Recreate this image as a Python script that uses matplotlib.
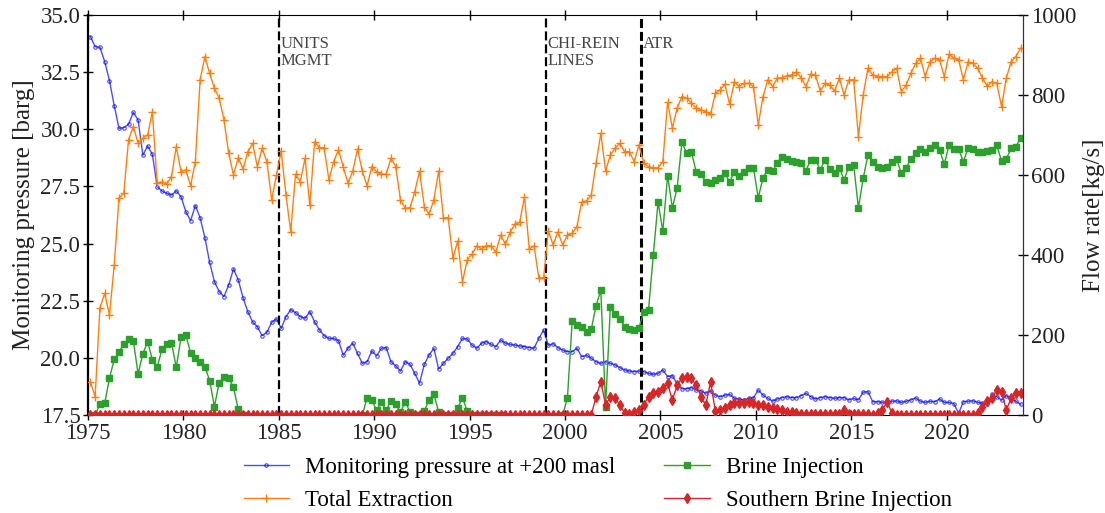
import numpy as np
import matplotlib
matplotlib.use("Agg")
import matplotlib.pyplot as plt
from matplotlib.ticker import FormatStrFormatter

nan = float("nan")

# Quarterly sampling, 1975 - 2023 (mid-quarter time stamps)
years = np.arange(1975, 2024)
quarter_offsets = [0.125, 0.375, 0.625, 0.875]

# Monitoring pressure at +200 masl [barg]
pressure = [
    34.05, 33.61, 33.59, 32.96,  # 1975
    32.13, 31.03, 30.04, 30.07,  # 1976
    30.22, 30.74, 30.41, 28.87,  # 1977
    29.27, 28.90, 27.49, 27.30,  # 1978
    27.20, 27.12, 27.30, 27.05,  # 1979
    26.40, 26.00, 26.66, 26.13,  # 1980
    25.26, 24.18, 23.33, 22.90,  # 1981
    22.68, 23.19, 23.89, 23.41,  # 1982
    22.63, 22.02, 21.58, 21.36,  # 1983
    20.97, 21.12, 21.55, 21.70,  # 1984
    21.29, 21.80, 22.11, 21.98,  # 1985
    21.80, 21.73, 22.02, 21.58,  # 1986
    21.22, 20.97, 20.85, 20.85,  # 1987
    20.75, 20.12, 20.42, 20.64,  # 1988
    20.20, 19.76, 19.83, 20.30,  # 1989
    20.09, 20.42, 20.45, 19.83,  # 1990
    19.65, 19.42, 19.83, 19.72,  # 1991
    19.32, 18.89, 19.72, 20.12,  # 1992
    20.42, 19.51, 19.76, 19.98,  # 1993
    20.20, 20.49, 20.85, 20.82,  # 1994
    20.56, 20.42, 20.64, 20.71,  # 1995
    20.59, 20.49, 20.78, 20.64,  # 1996
    20.59, 20.56, 20.52, 20.49,  # 1997
    20.45, 20.42, 20.85, 21.22,  # 1998
    20.55, 20.62, 20.45, 20.34,  # 1999
    20.27, 20.27, 20.42, 20.05,  # 2000
    20.12, 19.98, 19.83, 19.76,  # 2001
    19.83, 19.76, 19.69, 19.57,  # 2002
    19.47, 19.42, 19.40, 19.42,  # 2003
    19.40, 19.32, 19.28, 19.32,  # 2004
    19.47, 19.18, 19.22, 18.85,  # 2005
    18.65, 18.65, 18.70, 18.60,  # 2006
    18.55, 18.45, 18.55, 18.37,  # 2007
    18.30, 18.37, 18.40, 18.23,  # 2008
    18.20, 18.16, 18.23, 18.26,  # 2009
    18.59, 18.37, 18.23, 18.11,  # 2010
    18.20, 18.26, 18.30, 18.26,  # 2011
    18.26, 18.35, 18.45, 18.30,  # 2012
    18.20, 18.26, 18.30, 18.26,  # 2013
    18.23, 18.26, 18.26, 18.16,  # 2014
    18.23, 18.16, 18.50, 18.52,  # 2015
    18.08, 18.08, 18.05, 18.05,  # 2016
    18.10, 18.12, 18.05, 18.10,  # 2017
    18.16, 18.25, 18.10, 18.05,  # 2018
    18.10, 18.08, 18.20, 18.05,  # 2019
    18.05, 18.00, 17.57, 18.08,  # 2020
    18.10, 18.12, 18.05, 18.02,  # 2021
    17.97, 18.40, 18.30, 18.15,  # 2022
    18.35, 18.20, 18.10, 17.97,  # 2023
]

# Total extraction [kg/s]
total_extraction = [
    83, 46, 268, 304,     # 1975
    250, 375, 543, 554,   # 1976
    688, 721, 679, 692,   # 1977
    700, 758, 579, 583,   # 1978
    577, 596, 671, 608,   # 1979
    613, 573, 633, 838,   # 1980
    896, 854, 817, 792,   # 1981
    738, 654, 600, 643,   # 1982
    615, 658, 679, 621,   # 1983
    667, 633, 538, 600,   # 1984
    660, 550, 458, 602,   # 1985
    583, 642, 525, 683,   # 1986
    668, 668, 588, 633,   # 1987
    663, 621, 579, 610,   # 1988
    665, 610, 573, 621,   # 1989
    608, 602, 602, 642,   # 1990
    621, 538, 517, 518,   # 1991
    558, 610, 521, 502,   # 1992
    538, 610, 493, 493,   # 1993
    392, 435, 333, 388,   # 1994
    402, 423, 415, 423,   # 1995
    423, 407, 450, 427,   # 1996
    457, 477, 482, 546,   # 1997
    415, 423, 343, 343,   # 1998
    460, 425, 458, 425,   # 1999
    450, 454, 471, 533,   # 2000
    535, 550, 629, 704,   # 2001
    610, 650, 667, 679,   # 2002
    658, 658, 633, 675,   # 2003
    629, 621, 618, 618,   # 2004
    633, 782, 717, 767,   # 2005
    796, 792, 779, 767,   # 2006
    763, 758, 752, 804,   # 2007
    813, 827, 777, 833,   # 2008
    821, 829, 829, 821,   # 2009
    725, 796, 838, 821,   # 2010
    842, 843, 848, 850,   # 2011
    857, 843, 821, 852,   # 2012
    850, 810, 829, 825,   # 2013
    810, 842, 800, 838,   # 2014
    838, 696, 800, 867,   # 2015
    850, 846, 846, 846,   # 2016
    858, 867, 808, 825,   # 2017
    854, 879, 892, 846,   # 2018
    883, 892, 888, 846,   # 2019
    902, 892, 888, 838,   # 2020
    883, 879, 867, 842,   # 2021
    822, 833, 829, 771,   # 2022
    842, 883, 896, 917,   # 2023
]

# Brine injection [kg/s] (nan = no record)
brine_injection = [
    nan, 0, 27, 29,       # 1975
    92, 139, 158, 177,    # 1976
    189, 186, 103, 153,   # 1977
    183, 138, 119, 164,   # 1978
    177, 181, 119, 194,   # 1979
    200, 156, 142, 133,   # 1980
    121, 86, 21, 81,      # 1981
    94, 92, 69, 14,       # 1982
    0, nan, nan, nan,     # 1983
    nan, nan, nan, nan,   # 1984
    nan, nan, nan, nan,   # 1985
    nan, nan, nan, nan,   # 1986
    nan, nan, nan, nan,   # 1987
    nan, nan, nan, nan,   # 1988
    nan, 0, 43, 37,       # 1989
    12, 32, 12, 35,       # 1990
    28, 7, 33, 8,         # 1991
    0, 0, 10, 38,         # 1992
    52, 8, 0, nan,        # 1993
    0, 17, 43, 10,        # 1994
    0, 0, 0, 0,           # 1995
    0, 0, 0, nan,         # 1996
    nan, nan, nan, nan,   # 1997
    nan, nan, nan, nan,   # 1998
    nan, nan, nan, 0,     # 1999
    42, 235, 225, 219,    # 2000
    208, 215, 273, 312,   # 2001
    21, 271, 252, 240,    # 2002
    221, 215, 212, 218,   # 2003
    258, 262, 400, 532,   # 2004
    460, 598, 518, 568,   # 2005
    682, 654, 658, 607,   # 2006
    602, 583, 579, 588,   # 2007
    593, 604, 583, 608,   # 2008
    598, 608, 618, 618,   # 2009
    543, 593, 613, 610,   # 2010
    631, 646, 640, 636,   # 2011
    633, 629, 611, 638,   # 2012
    638, 613, 638, 615,   # 2013
    604, 618, 588, 621,   # 2014
    625, 517, 592, 650,   # 2015
    633, 621, 617, 621,   # 2016
    633, 640, 604, 618,   # 2017
    640, 654, 665, 657,   # 2018
    668, 675, 663, 627,   # 2019
    675, 665, 665, 633,   # 2020
    668, 665, 657, 657,   # 2021
    660, 663, 675, 635,   # 2022
    640, 667, 671, 693,   # 2023
]

# Southern brine injection [kg/s]
southern_brine = [
    0, 0, 0, 0,       # 1975
    0, 0, 0, 0,       # 1976
    0, 0, 0, 0,       # 1977
    0, 0, 0, 0,       # 1978
    0, 0, 0, 0,       # 1979
    0, 0, 0, 0,       # 1980
    0, 0, 0, 0,       # 1981
    0, 0, 0, 0,       # 1982
    0, 0, 0, 0,       # 1983
    0, 0, 0, 0,       # 1984
    0, 0, 0, 0,       # 1985
    0, 0, 0, 0,       # 1986
    0, 0, 0, 0,       # 1987
    0, 0, 0, 0,       # 1988
    0, 0, 0, 0,       # 1989
    0, 0, 0, 0,       # 1990
    0, 0, 0, 0,       # 1991
    0, 0, 0, 0,       # 1992
    0, 0, 0, 0,       # 1993
    0, 0, 0, 0,       # 1994
    0, 0, 0, 0,       # 1995
    0, 0, 0, 0,       # 1996
    0, 0, 0, 0,       # 1997
    0, 0, 0, 0,       # 1998
    0, 0, 0, 0,       # 1999
    0, 0, 0, 0,       # 2000
    0, 0, 46, 83,     # 2001
    25, 46, 42, 25,   # 2002
    4, 2, 8, 12,      # 2003
    25, 46, 56, 58,   # 2004
    67, 79, 37, 75,   # 2005
    92, 96, 92, 75,   # 2006
    46, 25, 83, 10,   # 2007
    12, 17, 25, 29,   # 2008
    29, 29, 32, 30,   # 2009
    25, 24, 21, 17,   # 2010
    15, 12, 8, 7,     # 2011
    4, 3, 2, 2,       # 2012
    2, 2, 2, 2,       # 2013
    2, 2, 12, 2,      # 2014
    2, 2, 2, 2,       # 2015
    0, 5, 12, 33,     # 2016
    5, 0, 0, 0,       # 2017
    0, 0, 0, 0,       # 2018
    0, 0, 0, 0,       # 2019
    0, 0, 0, 0,       # 2020
    0, 0, 5, 21,      # 2021
    35, 43, 62, 58,   # 2022
    12, 42, 54, 54,   # 2023
]

# Operational events marked on the time axis
event_years = [1985, 1999, 2004]
event_labels = ["UNITS\nMGMT", "CHI-REIN\nLINES", "ATR"]
event_widths = [1.6, 1.6, 2.2]

x_ticks = [1975, 1980, 1985, 1990, 1995, 2000, 2005, 2010, 2015, 2020]
left_ticks = [17.5, 20.0, 22.5, 25.0, 27.5, 30.0, 32.5, 35.0]
right_ticks = [0, 200, 400, 600, 800, 1000]

time = (years[:, None] + np.array(quarter_offsets)[None, :]).ravel()

plt.rcParams["font.family"] = ["Liberation Serif", "DejaVu Serif"]

fig = plt.figure(figsize=(11.05, 5.13), dpi=100)
W, H = 1105, 513
ax = fig.add_axes([88 / W, 1 - 415 / H, (1023 - 88) / W, 400 / H])
ax2 = ax.twinx()

h1, = ax.plot(time, pressure, color="blue", alpha=0.7, lw=1.0,
              marker="o", ms=2.5, mfc="none", mew=0.8,
              label="Monitoring pressure at +200 masl")
h2, = ax2.plot(time, total_extraction, color="#ff7f0e", lw=1.0,
               marker="+", ms=6, mew=1.0, label="Total Extraction")
h3, = ax2.plot(time, brine_injection, color="#2ca02c", lw=1.0,
               marker="s", ms=4.8, label="Brine Injection")
h4, = ax2.plot(time, southern_brine, color="#d62728", lw=1.0,
               marker="d", ms=5.5, label="Southern Brine Injection")

for yr, lab, lw in zip(event_years, event_labels, event_widths):
    ax.axvline(yr, color="black", lw=lw, ls=(0, (6.5 / lw, 2.8 / lw)), zorder=5)
    ax.text(yr + 0.1, 34.1, lab, ha="left", va="top", fontsize=12,
            color="#444444", linespacing=1.1)

ax.set_xlim(1975, 2024)
ax.set_ylim(17.5, 35.0)
ax2.set_ylim(0, 1000)
ax.set_xticks(x_ticks)
ax.set_yticks(left_ticks)
ax2.set_yticks(right_ticks)
ax.yaxis.set_major_formatter(FormatStrFormatter("%.1f"))

ax.tick_params(axis="x", direction="inout", top=True, length=7, width=1.0,
               labelsize=16.5, pad=2)
ax.tick_params(axis="y", direction="inout", length=7, width=1.0,
               labelsize=16.5, pad=2)
ax2.tick_params(axis="y", direction="inout", length=7, width=1.0,
                labelsize=16.5, pad=2)

ax.set_ylabel("Monitoring pressure [barg]", fontsize=18, labelpad=4, color="#222222")
ax2.set_ylabel("Flow rate[kg/s]", fontsize=18, labelpad=5, color="#222222")

ax.spines["left"].set_linewidth(1.6)
ax2.spines["left"].set_visible(False)
for sp in ["top", "bottom"]:
    ax2.spines[sp].set_visible(False)
ax2.spines["right"].set_color("#333333")

for t in ax.get_xticklabels() + ax.get_yticklabels() + ax2.get_yticklabels():
    t.set_color("#222222")

ax.legend(handles=[h1, h2, h3, h4], ncol=2, loc="upper center",
          bbox_to_anchor=(0.545, -0.065), frameon=False, fontsize=16.5,
          handlelength=2.0, handletextpad=0.7, columnspacing=2.1,
          labelspacing=0.5, borderpad=0.2)

fig.savefig("out.png", dpi=100)
